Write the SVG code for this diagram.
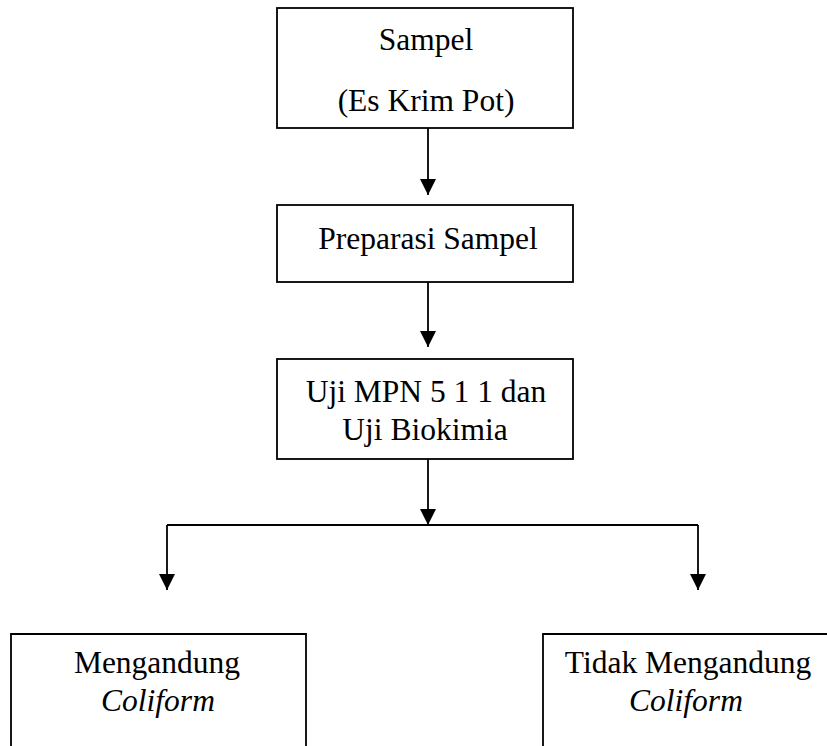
<svg xmlns="http://www.w3.org/2000/svg" width="827" height="746" viewBox="0 0 827 746">
<style>
.box{fill:#fff;stroke:#000;stroke-width:1.8}
.t{font-family:"Liberation Serif","Times New Roman",serif;font-size:31.5px;fill:#000;text-anchor:middle}
.i{font-style:italic}
.c{fill:none;stroke:#000;stroke-width:1.8}
</style>
<defs>
<marker id="ah" viewBox="0 0 10 10" refX="10" refY="5" markerWidth="16" markerHeight="16" markerUnits="userSpaceOnUse" orient="auto">
<path d="M0,0 L10,5 L0,10 z" fill="#000"/>
</marker>
</defs>
<rect width="827" height="746" fill="#fff"/>
<g id="n1"><rect class="box" x="277" y="8" width="296" height="120"/>
<text class="t" x="426" y="50">Sampel</text>
<text class="t" x="426" y="111">(Es Krim Pot)</text></g>
<g id="n2"><rect class="box" x="277" y="205" width="296" height="77"/>
<text class="t" x="428" y="249">Preparasi Sampel</text></g>
<g id="n3"><rect class="box" x="277" y="359" width="296" height="100"/>
<text class="t" x="426" y="402">Uji MPN 5 1 1 dan</text>
<text class="t" x="425" y="440">Uji Biokimia</text></g>
<g id="n4"><path class="box" d="M11,746 V634 H306 V746"/>
<text class="t" x="157" y="673">Mengandung</text>
<text class="t i" x="158" y="711">Coliform</text></g>
<g id="n5"><path class="box" d="M543,746 V634 H828"/>
<text class="t" x="688" y="673">Tidak Mengandung</text>
<text class="t i" x="686" y="711">Coliform</text></g>
<g id="connectors">
<line class="c" x1="428" y1="128" x2="428" y2="195" marker-end="url(#ah)"/>
<line class="c" x1="428" y1="282" x2="428" y2="347" marker-end="url(#ah)"/>
<line class="c" x1="428" y1="459" x2="428" y2="525" marker-end="url(#ah)"/>
<line class="c" x1="167" y1="525" x2="698" y2="525"/>
<line class="c" x1="167" y1="525" x2="167" y2="590" marker-end="url(#ah)"/>
<line class="c" x1="698" y1="525" x2="698" y2="590" marker-end="url(#ah)"/>
</g>
</svg>
